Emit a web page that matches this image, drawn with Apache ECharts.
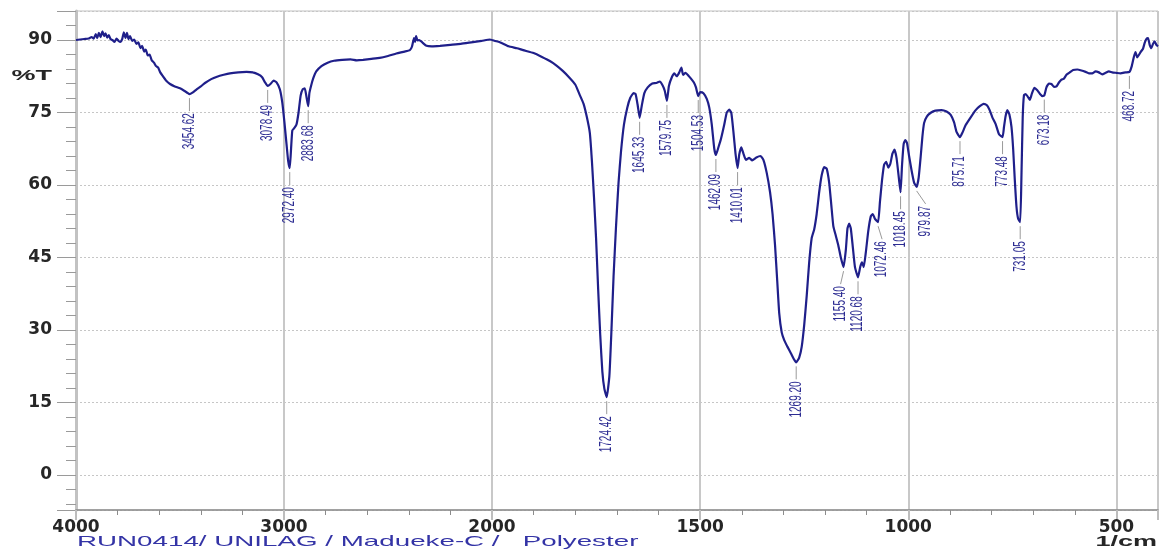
<!DOCTYPE html>
<html>
<head>
<meta charset="utf-8">
<script src="https://cdn.jsdelivr.net/npm/echarts@6/dist/echarts.min.js"></script>
<style>html,body{margin:0;padding:0;background:#fff}#chart{width:1160px;height:550px}</style>
</head>
<body>
<div id="chart"></div>
<script>
// ---- data ----
const wavenumbers = [
  4000,3980,3960,3940,3925,3915,3905,3898,3890,3882,3873,3865,3858,3850,3842,3834,3825,3815,3805,3795,
  3786,3778,3770,3762,3755,3748,3740,3730,3720,3710,3700,3690,3682,3672,3664,3655,3646,3636,3625,3615,
  3605,3595,3582,3565,3548,3525,3500,3480,3462,3454.62,3440,3420,3400,3380,3350,3322,3290,3260,3220,3180,
  3150,3125,3105,3092,3078.49,3065,3050,3035,3020,3008,2998,2988,2980,2972.40,2966,2960,2950,2940,2930,2920,
  2910,2900,2893,2883.68,2878,2870,2860,2845,2820,2790,2760,2720,2680,2650,2620,2580,2540,2500,2460,2420,
  2395,2385,2375,2370,2365,2358,2350,2340,2330,2315,2290,2250,2200,2150,2100,2050,2010,2000,
  1980,1960,1940,1925,1900,1880,1860,1845,1830,1815,1800,1790,1780,1772,1765,1760,1755,1750,1745,1740,
  1735,1730,1724.42,1718,1713,1708,1702,1696,1690,1683,1675,1668,1660,1655,1650,1645.33,1640,1634,1626,1615,
  1605,1597,1590,1585,1579.75,1575,1568,1562,1556,1550,1545,1541,1535,1528,1522,1515,1510,1504.53,1500,1492,
  1484,1478,1472,1466,1462.09,1456,1450,1442,1436,1430,1425,1420,1415,1410.01,1406,1401,1396,1390,1382,1375,
  1365,1355,1348,1340,1332,1326,1320,1315,1310,1304,1298,1290,1282,1275,1269.20,1262,1256,1250,1244,1238,
  1232,1226,1220,1214,1208,1202,1196,1190,1185,1180,1174,1168,1162,1155.40,1150,1146,1142,1138,1133,1128,
  1120.68,1115,1111,1107,1102,1096,1090,1085,1080,1072.46,1068,1063,1058,1053,1048,1043,1038,1033,1028,1022,
  1018.45,1015,1011,1007,1003,998,992,986,979.87,975,970,966,962,955,945,935,920,908,898,890,
  884,875.71,870,862,850,838,828,819,811,805,798,790,782,773.48,770,766,762,757,752,748,
  744,740,736,731.05,728,725,722,718,713,708,703,697,690,684,678,673.18,668,662,656,650,
  644,638,632,626,620,612,604,594,584,574,566,558,550,542,534,526,518,510,500,490,
  478,468.72,463,458,454,450,446,441,436,432,428,424,420,416,412,408,404,400
];
const transmittance = [
  90.0,90.1,90.2,90.3,90.6,90.3,91.2,90.4,91.5,90.6,91.8,90.8,91.4,90.5,91.0,90.2,90.0,89.6,90.3,89.8,
  89.6,90.2,91.6,90.4,91.5,90.2,90.8,89.8,90.1,89.2,89.5,88.3,88.8,87.6,88.0,86.8,87.0,85.8,85.3,84.6,
  84.3,83.3,82.5,81.5,80.9,80.4,80.0,79.5,79.0,78.8,79.1,79.8,80.4,81.1,81.9,82.4,82.8,83.1,83.3,83.4,
  83.3,82.9,82.3,81.3,80.5,80.9,81.6,81.2,79.8,77.0,73.0,68.5,65.0,63.5,67.5,71.3,71.8,72.5,75.0,78.5,
  79.8,80.0,78.5,76.3,79.0,80.5,82.0,83.5,84.6,85.3,85.7,85.9,86.0,85.8,85.9,86.1,86.3,86.7,87.2,87.6,
  87.9,88.6,90.4,89.6,90.8,89.9,90.0,89.7,89.3,88.8,88.7,88.8,89.0,89.2,89.5,89.8,90.1,90.0,
  89.5,88.7,88.3,87.9,87.3,86.5,85.6,84.7,83.6,82.3,80.8,78.8,76.8,74.0,70.8,65.0,57.5,49.0,38.5,29.0,
  21.5,17.8,16.1,20.5,30.0,41.0,51.5,60.5,67.0,72.5,76.0,78.0,79.0,78.8,76.5,73.9,76.5,79.0,80.2,81.0,
  81.1,81.4,80.6,79.5,77.4,80.5,82.3,83.1,82.5,83.3,84.3,82.8,83.2,82.6,82.0,81.2,80.2,78.4,79.2,79.0,
  77.8,76.0,72.5,67.5,66.2,67.8,69.5,72.5,75.0,75.6,74.9,71.0,66.5,63.5,66.3,67.8,66.5,65.2,65.6,65.1,
  65.7,66.0,65.2,62.5,58.5,54.0,47.5,40.5,33.5,29.5,27.9,26.5,25.2,24.0,23.3,24.3,26.5,31.0,37.0,44.0,
  49.0,50.8,54.0,58.5,62.0,63.7,63.4,60.5,56.0,51.5,49.5,47.5,45.0,43.0,46.5,51.0,52.0,51.0,47.0,43.0,
  40.9,43.2,44.0,43.0,46.0,50.5,53.5,54.0,53.0,52.3,56.5,61.0,64.2,64.8,63.6,64.4,66.5,67.3,65.5,61.0,
  58.5,64.0,68.5,69.3,68.7,66.0,63.0,60.5,59.6,61.5,66.0,70.0,72.8,74.2,75.0,75.4,75.5,75.2,74.5,73.0,
  71.0,69.9,70.8,72.4,74.0,75.5,76.3,76.8,76.5,75.6,74.0,72.6,70.5,69.9,72.0,74.3,75.5,74.6,72.0,67.5,
  61.0,55.5,53.0,52.3,62.0,74.0,78.6,78.8,78.3,77.6,78.9,80.1,79.6,78.9,78.4,78.5,80.2,81.0,80.9,80.3,
  80.4,81.2,81.8,82.0,82.8,83.3,83.8,83.9,83.7,83.4,83.1,83.1,83.5,83.3,82.9,83.2,83.5,83.3,83.2,83.1,
  83.3,83.4,84.6,86.5,87.5,86.4,86.9,87.6,88.2,89.4,90.2,90.4,89.0,88.3,89.2,89.7,89.0,88.7
];
const peakWavenumbers = [3454.62,3078.49,2972.40,2883.68,1724.42,1645.33,1579.75,1504.53,1462.09,1410.01,
  1269.20,1155.40,1120.68,1072.46,1018.45,979.87,875.71,773.48,731.05,673.18,468.72];
const peakLabels = ['3454.62','3078.49','2972.40','2883.68','1724.42','1645.33','1579.75','1504.53','1462.09','1410.01',
  '1269.20','1155.40','1120.68','1072.46','1018.45','979.87','875.71','773.48','731.05','673.18','468.72'];
const xTickLabels = [4000, 3000, 2000, 1500, 1000, 500];
const yTickLabels = [0, 15, 30, 45, 60, 75, 90];
const yTitle = '%T';
const xUnit = '1/cm';
const footerText = 'RUN0414/ UNILAG / Madueke-C /   Polyester';

// ---- build ----
const points = wavenumbers.map((w, i) => [w, transmittance[i]]);
const highPart = points.filter(p => p[0] >= 2000);
const lowPart = points.filter(p => p[0] <= 2000);
const peakPoints = peakWavenumbers.map((w, i) => [w, transmittance[wavenumbers.indexOf(w)], i]);
const highPeaks = peakPoints.filter(p => p[0] >= 2000);
const lowPeaks = peakPoints.filter(p => p[0] < 2000);

const labelShift = { '979.87': 9, '1072.46': 4, '1155.40': -3 };
const LINE_COLOR = '#1f1f8a';
const LABEL_COLOR = '#2c2c92';
const TEXT_COLOR = '#262626';
const FONT = "'DejaVu Sans', sans-serif";

function renderPeak(params, api) {
  const p = api.coord([api.value(0), api.value(1)]);
  const txt = peakLabels[api.value(2)];
  const dx = labelShift[txt] || 0;
  return {
    type: 'group',
    children: [
      { type: 'line', shape: { x1: p[0], y1: p[1] + 4, x2: p[0] + dx, y2: p[1] + 17 },
        style: { stroke: '#9a9a9a', lineWidth: 1 } },
      { type: 'text', x: p[0] + dx, y: p[1] + 19, rotation: Math.PI / 2, scaleY: 1.6,
        style: { text: txt, fill: LABEL_COLOR, fontSize: 10, fontFamily: "'Liberation Sans', Arial, sans-serif",
                 align: 'right', verticalAlign: 'middle' } }
    ]
  };
}

const yCommon = {
  type: 'value', min: -7.25, max: 96, minInterval: 15, maxInterval: 15, splitNumber: 5,
  splitLine: { show: true, lineStyle: { color: '#c6c6c6', type: [2, 2], width: 1 } }
};
const xLabel = {
  fontFamily: FONT, fontSize: 17, fontWeight: 'bold', color: TEXT_COLOR, margin: 9,
  formatter: v => (xTickLabels.indexOf(v) >= 0 ? String(v) : '')
};
const xAxisStyle = {
  axisLine: { show: true, onZero: false, lineStyle: { color: '#8c8c8c', width: 1.5 } },
  axisTick: { show: true, length: 10, lineStyle: { color: '#bdbdbd', width: 2 } },
  minorTick: { show: true, splitNumber: 5, length: 5, lineStyle: { color: '#8c8c8c', width: 1 } },
  splitLine: { show: true, lineStyle: { color: '#c8c8c8', width: 2 } }
};

const option = {
  animation: false,
  backgroundColor: '#ffffff',
  grid: [
    { left: 76, top: 11, width: 416, bottom: 40, show: true, borderColor: '#c0c0c0', borderWidth: 1 },
    { left: 492, top: 11, right: 2, bottom: 40, show: true, borderColor: '#c0c0c0', borderWidth: 1 }
  ],
  xAxis: [
    Object.assign({ gridIndex: 0, type: 'value', min: 2000, max: 4000, interval: 1000, inverse: true,
      axisLabel: Object.assign({}, xLabel, { showMaxLabel: true, showMinLabel: true }) }, xAxisStyle),
    Object.assign({ gridIndex: 1, type: 'value', min: 400, max: 2000, minInterval: 500, maxInterval: 500, splitNumber: 4, inverse: true,
      axisLabel: Object.assign({}, xLabel, { showMinLabel: false, showMaxLabel: false }) }, xAxisStyle)
  ],
  yAxis: [
    Object.assign({}, yCommon, {
      gridIndex: 0,
      axisLine: { show: true, lineStyle: { color: '#c2c2c2', width: 3 } },
      axisTick: { show: true, length: 19, lineStyle: { color: '#9a9a9a', width: 1 } },
      minorTick: { show: true, splitNumber: 5, length: 10, lineStyle: { color: '#9a9a9a', width: 1 } },
      axisLabel: { fontFamily: FONT, fontSize: 17, fontWeight: 'bold', color: TEXT_COLOR, margin: 24,
                   showMinLabel: false, showMaxLabel: false,
                   formatter: v => (yTickLabels.indexOf(v) >= 0 ? String(v) : '') }
    }),
    Object.assign({}, yCommon, {
      gridIndex: 1,
      axisLine: { show: false }, axisTick: { show: false }, axisLabel: { show: false }
    })
  ],
  graphic: [
    { type: 'text', x: 52, y: 76, scaleX: 1.8,
      style: { text: yTitle, fill: TEXT_COLOR, fontSize: 15, fontWeight: 'bold', fontFamily: "'Liberation Sans', Arial, sans-serif", align: 'right', verticalAlign: 'middle' } },
    { type: 'text', x: 1157, y: 542, scaleX: 1.8,
      style: { text: xUnit, fill: TEXT_COLOR, fontSize: 15, fontWeight: 'bold', fontFamily: "'Liberation Sans', Arial, sans-serif", align: 'right', verticalAlign: 'middle' } },
    { type: 'text', x: 77, y: 542, scaleX: 1.85,
      style: { text: footerText, fill: '#3434a6', fontSize: 15, fontFamily: "'Liberation Sans', Arial, sans-serif", align: 'left', verticalAlign: 'middle' } }
  ],
  series: [
    { type: 'line', xAxisIndex: 0, yAxisIndex: 0, data: highPart, showSymbol: false, smooth: 0.15,
      lineStyle: { color: LINE_COLOR, width: 2.2 } },
    { type: 'line', xAxisIndex: 1, yAxisIndex: 1, data: lowPart, showSymbol: false, smooth: 0.15,
      lineStyle: { color: LINE_COLOR, width: 2.2 } },
    { type: 'custom', xAxisIndex: 0, yAxisIndex: 0, data: highPeaks, renderItem: renderPeak, clip: false, z: 5 },
    { type: 'custom', xAxisIndex: 1, yAxisIndex: 1, data: lowPeaks, renderItem: renderPeak, clip: false, z: 5 }
  ]
};

const chart = echarts.init(document.getElementById('chart'), null, { renderer: 'canvas' });
chart.setOption(option);
</script>
</body>
</html>
